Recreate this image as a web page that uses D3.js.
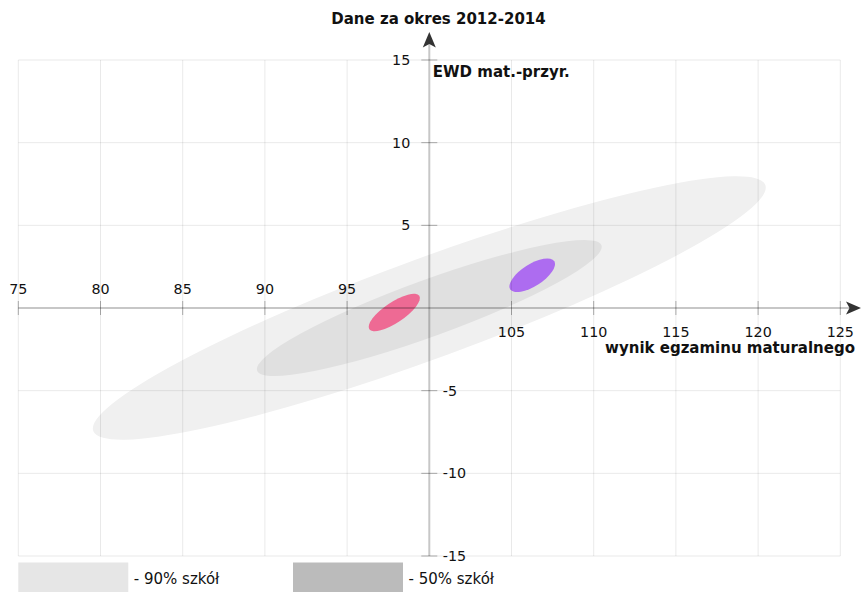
<!DOCTYPE html>
<html><head><meta charset="utf-8">
<script src="https://cdn.jsdelivr.net/npm/d3@7"></script>
<style>
html,body{margin:0;padding:0;background:#fff;}
text{font-family:"DejaVu Sans",sans-serif;}
</style></head>
<body>
<svg id="c" width="862" height="592"></svg>
<script>
// ---- data ----
const xTicks = [75, 80, 85, 90, 95, 100, 105, 110, 115, 120, 125];
const yTicks = [-15, -10, -5, 0, 5, 10, 15];
const title = "Dane za okres 2012-2014";
const xLabel = "wynik egzaminu maturalnego";
const yLabel = "EWD mat.-przyr.";
// ellipses: center (x,y), end of major half-axis (ex,ey), minor/major ratio
const ellipseNames = ["90% szkół", "50% szkół", "szkoła A", "szkoła B"];
const ellipseCx = [100, 100, 97.87, 106.26];
const ellipseCy = [0, 0, -0.27, 1.98];
const ellipseEx = [120.44, 110.47, 99.39, 107.60];
const ellipseEy = [7.44, 3.79, 0.74, 2.83];
const ellipseRatio = [0.140, 0.154, 0.34, 0.42];
const ellipseColors = ["#f0f0f0", "#e0e0e0", "#ee6a94", "#ad6cf0"];
const legendLabels = ["- 90% szkół", "- 50% szkół"];
const legendColors = ["#e6e6e6", "#bbbbbb"];

// ---- drawing ----
const svg = d3.select("#c");
const x = d3.scaleLinear().domain([75, 125]).range([18.3, 840.3]);
const y = d3.scaleLinear().domain([-15, 15]).range([556, 60]);
const x0 = x(100), y0 = y(0);

// ellipses
const eg = svg.append("g");
ellipseCx.forEach((cx, i) => {
  const px = x(cx), py = y(ellipseCy[i]);
  const dx = x(ellipseEx[i]) - px, dy = y(ellipseEy[i]) - py;
  const a = Math.hypot(dx, dy);
  const ang = Math.atan2(dy, dx) * 180 / Math.PI;
  eg.append("ellipse")
    .attr("cx", 0).attr("cy", 0)
    .attr("rx", a).attr("ry", a * ellipseRatio[i])
    .attr("transform", `translate(${px},${py}) rotate(${ang})`)
    .attr("fill", ellipseColors[i]);
});

// grid
const grid = svg.append("g").attr("stroke", "rgba(0,0,0,0.085)").attr("stroke-width", 1);
xTicks.forEach(t => {
  if (t === 100) return;
  grid.append("line").attr("x1", x(t)).attr("x2", x(t)).attr("y1", y(15)).attr("y2", y(-15));
});
yTicks.forEach(t => {
  if (t === 0) return;
  grid.append("line").attr("x1", x(75)).attr("x2", x(125)).attr("y1", y(t)).attr("y2", y(t));
});

// axes lines
const ax = svg.append("g");
ax.append("line").attr("x1", x(75)).attr("x2", 852).attr("y1", y0).attr("y2", y0)
  .attr("stroke", "rgba(0,0,0,0.22)").attr("stroke-width", 2);
ax.append("line").attr("x1", x0).attr("x2", x0).attr("y1", y(-15)).attr("y2", 40)
  .attr("stroke", "rgba(0,0,0,0.22)").attr("stroke-width", 2);
// arrows
ax.append("path").attr("d", `M861,${y0} L846,${y0-6.5} L849.5,${y0} L846,${y0+6.5} Z`).attr("fill", "#333");
ax.append("path").attr("d", `M${x0},32 L${x0-6.5},47.5 L${x0},44 L${x0+6.5},47.5 Z`).attr("fill", "#333");

// ticks
xTicks.forEach(t => {
  if (t === 100) return;
  ax.append("line").attr("x1", x(t)).attr("x2", x(t)).attr("y1", y0 - 7).attr("y2", y0 + 7)
    .attr("stroke", "rgba(0,0,0,0.3)").attr("stroke-width", 1);
  ax.append("text").attr("x", x(t)).attr("y", t < 100 ? y0 - 14.5 : y0 + 29)
    .attr("text-anchor", "middle").attr("font-size", 14.3).attr("fill", "#111").text(t);
});
yTicks.forEach(t => {
  if (t === 0) return;
  ax.append("line").attr("x1", x0 - 8).attr("x2", x0 + 8).attr("y1", y(t)).attr("y2", y(t))
    .attr("stroke", "rgba(0,0,0,0.3)").attr("stroke-width", 1);
  ax.append("text").attr("x", t > 0 ? x0 - 19 : x0 + 13.5).attr("y", y(t) + 5)
    .attr("text-anchor", t > 0 ? "end" : "start").attr("font-size", 14.3).attr("fill", "#111").text(t);
});

// titles
svg.append("text").attr("x", 438.5).attr("y", 24).attr("text-anchor", "middle")
  .attr("font-size", 15).attr("font-weight", "bold").attr("fill", "#111").text(title);
svg.append("text").attr("x", x0 + 3.5).attr("y", 77).attr("font-size", 15)
  .attr("font-weight", "bold").attr("fill", "#111").text(yLabel);
svg.append("text").attr("x", 855).attr("y", 353).attr("text-anchor", "end").attr("font-size", 15)
  .attr("font-weight", "bold").attr("fill", "#111").text(xLabel);

// legend
const lg = svg.append("g");
const legX = [18.3, 293];
legendLabels.forEach((l, i) => {
  lg.append("rect").attr("x", legX[i]).attr("y", 562.5).attr("width", 110).attr("height", 32)
    .attr("fill", legendColors[i]);
  lg.append("text").attr("x", legX[i] + 115.5).attr("y", 584).attr("font-size", 15)
    .attr("fill", "#111").text(l);
});
</script>
</body></html>
